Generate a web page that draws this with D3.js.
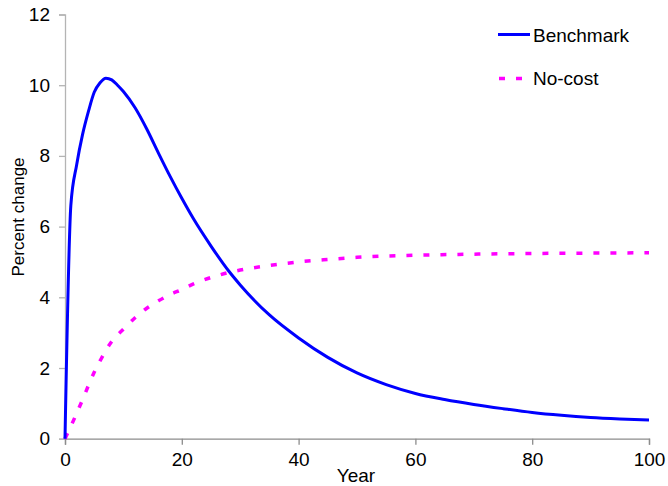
<!DOCTYPE html>
<html>
<head>
<meta charset="utf-8">
<script src="https://cdn.jsdelivr.net/npm/d3@7"></script>
<style>
  body { margin: 0; background: #fff; }
  text { font-family: "Liberation Sans", Arial, sans-serif; fill: #000; }
</style>
</head>
<body>
<script>
// values
var benchYears = [0, 1, 2, 3, 4, 5, 6, 7, 8, 9, 10, 12, 14, 16, 18, 20, 22, 25, 28, 30, 35, 40, 45, 50, 55, 60, 65, 70, 75, 80, 85, 90, 95, 100];
var benchValues = [0, 6.6, 7.75, 8.6, 9.25, 9.8, 10.07, 10.2, 10.15, 10.0, 9.82, 9.36, 8.76, 8.08, 7.42, 6.8, 6.22, 5.45, 4.75, 4.35, 3.5, 2.85, 2.3, 1.86, 1.53, 1.28, 1.11, 0.97, 0.85, 0.74, 0.66, 0.6, 0.56, 0.53];

var noCostYears = [0, 1, 2, 3, 4, 5, 6, 7, 8, 10, 12, 14, 16, 18, 20, 22, 25, 28, 30, 35, 40, 45, 50, 60, 70, 80, 90, 100];
var noCostValues = [0, 0.35, 0.72, 1.1, 1.5, 1.88, 2.2, 2.5, 2.75, 3.1, 3.42, 3.69, 3.9, 4.08, 4.22, 4.38, 4.56, 4.7, 4.77, 4.9, 5.0, 5.07, 5.13, 5.19, 5.22, 5.24, 5.25, 5.26];

var xTicks = [0, 20, 40, 60, 80, 100];
var yTicks = [0, 2, 4, 6, 8, 10, 12];

var seriesNames = ["Benchmark", "No-cost"];

var width = 668, height = 486;
var margin = {top: 14.5, right: 19, bottom: 47.3, left: 65};

var svg = d3.select("body").append("svg")
    .attr("width", width)
    .attr("height", height);

var x = d3.scaleLinear().domain([0, 100]).range([margin.left, width - margin.right]);
var y = d3.scaleLinear().domain([0, 12]).range([height - margin.bottom, margin.top]);

// y axis
var yAxis = svg.append("g")
    .attr("transform", "translate(" + x(0) + ",0)")
    .call(d3.axisLeft(y).tickValues(yTicks).tickSize(6).tickPadding(9));
yAxis.select(".domain").attr("stroke", "#b4b4b4").attr("stroke-width", 1.3);
yAxis.selectAll(".tick line").attr("stroke", "#b4b4b4").attr("stroke-width", 1.3);
yAxis.selectAll(".tick text").style("font-size", "19px").attr("fill", "#000");

// x axis
var xAxis = svg.append("g")
    .attr("transform", "translate(0," + y(0) + ")")
    .call(d3.axisBottom(x).tickValues(xTicks).tickSize(6).tickPadding(8));
xAxis.select(".domain").attr("stroke", "#8c8c8c").attr("stroke-width", 1.3);
xAxis.selectAll(".tick line").attr("stroke", "#8c8c8c").attr("stroke-width", 1.3);
xAxis.selectAll(".tick text").style("font-size", "19px").attr("fill", "#000");

var line = d3.line()
    .x(function(d) { return x(d[0]); })
    .y(function(d) { return y(d[1]); })
    .curve(d3.curveMonotoneX);

var noCost = noCostYears.map(function(yr, i) { return [yr, noCostValues[i]]; });
var bench = benchYears.map(function(yr, i) { return [yr, benchValues[i]]; });

svg.append("path")
    .datum(noCost)
    .attr("fill", "none")
    .attr("stroke", "#ff00ff")
    .attr("stroke-width", 3.5)
    .attr("stroke-dasharray", "6,11")
    .attr("d", line);

svg.append("path")
    .datum(bench)
    .attr("fill", "none")
    .attr("stroke", "#0000ff")
    .attr("stroke-width", 3)
    .attr("stroke-linejoin", "round")
    .attr("d", line);

// axis titles
svg.append("text")
    .attr("x", 356)
    .attr("y", 482)
    .attr("text-anchor", "middle")
    .style("font-size", "19px")
    .text("Year");

svg.append("text")
    .attr("transform", "translate(24,217) rotate(-90)")
    .attr("text-anchor", "middle")
    .style("font-size", "17px")
    .text("Percent change");

// legend
var legend = svg.append("g");
legend.append("line")
    .attr("x1", 498).attr("x2", 530)
    .attr("y1", 34.5).attr("y2", 34.5)
    .attr("stroke", "#0000ff").attr("stroke-width", 3);
legend.append("line")
    .attr("x1", 499).attr("x2", 530)
    .attr("y1", 78.5).attr("y2", 78.5)
    .attr("stroke", "#ff00ff").attr("stroke-width", 3.5)
    .attr("stroke-dasharray", "6,11");
legend.selectAll("text.lg")
    .data(seriesNames)
    .enter().append("text")
    .attr("class", "lg")
    .attr("x", 533)
    .attr("y", function(d, i) { return 42 + i * 43; })
    .style("font-size", "19px")
    .text(function(d) { return d; });
</script>
</body>
</html>
